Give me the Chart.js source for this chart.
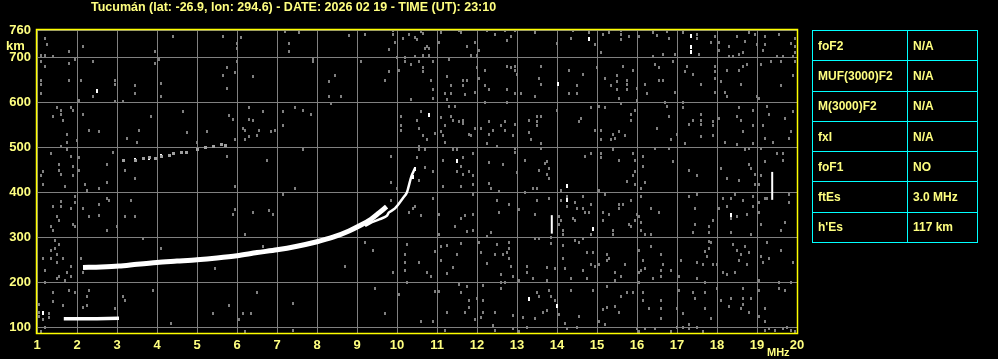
<!DOCTYPE html>
<html>
<head>
<meta charset="utf-8">
<script src="https://cdn.jsdelivr.net/npm/chart.js@4"></script>
<style>
  html, body { margin: 0; padding: 0; background: #000; }
  #wrap { position: relative; width: 998px; height: 359px; background: #000; overflow: hidden; }
  #title { position: absolute; left: 91px; top: 0px; color: #ffff80; font: bold 12.5px "Liberation Sans", Arial, sans-serif; white-space: nowrap; }
  #params { position: absolute; left: 812px; top: 30px; border-collapse: collapse; font: bold 12px "Liberation Sans", Arial, sans-serif; color: #ffff80; }
  #params td { border: 1px solid #00ffff; height: 30.3px; padding: 0 0 0 5px; box-sizing: border-box; white-space: nowrap; }
  #params td.name { width: 95px; }
  #params td.val { width: 70px; }
</style>
</head>
<body>
<div id="wrap">
  <canvas id="iono" width="998" height="359"></canvas>
  <div id="title">Tucumán (lat: -26.9, lon: 294.6) - DATE: 2026 02 19 - TIME (UT): 23:10</div>
  <table id="params"></table>
</div>
<script>
// escalas
const freqTicks = [1, 2, 3, 4, 5, 6, 7, 8, 9, 10, 11, 12, 13, 14, 15, 16, 17, 18, 19, 20];
const heightTicks = [100, 200, 300, 400, 500, 600, 700, 760];

// parametros
const paramNames = ['foF2', 'MUF(3000)F2', 'M(3000)F2', 'fxI', 'foF1', 'ftEs', "h'Es"];
const paramValues = ['N/A', 'N/A', 'N/A', 'N/A', 'NO', '3.0 MHz', '117 km'];

// traza F (ordinaria)
const traceFreq = [2.15, 2.6, 3.05, 3.5, 4.0, 4.5, 5.0, 5.5, 6.0, 6.5, 7.0, 7.5, 8.0, 8.4, 8.8, 9.1, 9.35, 9.55, 9.74];
const traceHeight = [233, 234, 236, 240, 244, 247, 250, 254, 259, 266, 272, 280, 290, 300, 314, 327, 340, 354, 368];

// segunda rama
const branchFreq = [9.2, 9.32, 9.57, 9.74, 9.8, 9.95, 10.15, 10.24, 10.28, 10.36, 10.45];
const branchHeight = [325, 331, 340, 347, 355, 364, 387, 398, 409, 435, 453];

// traza Es
const esFreq = [1.67, 2.0, 2.5, 3.05];
const esHeight = [119, 119, 119, 120];

// eco multiple
const echoFreq = [3.15, 3.45, 3.65, 3.80, 3.95, 4.10, 4.30, 4.40, 4.60, 4.73, 5.00, 5.20, 5.40, 5.60, 5.70];
const echoHeight = [471, 471, 474, 476, 474, 480, 482, 485, 488, 489, 495, 500, 501, 506, 503];

// trazos verticales
const dashA = [[13.87, 308], [13.87, 349]];
const dashB = [[19.38, 383], [19.38, 445]];

// puntos blancos sueltos
const whiteDots = [[2.50, 625], [10.79, 571], [10.44, 452], [10.39, 434], [11.49, 470], [14.79, 741], [17.34, 747],
  [17.34, 722], [17.34, 712], [14.02, 640], [14.24, 414], [14.24, 382], [14.89, 318], [18.34, 350], [13.99, 148],
  [1.15, 131], [13.29, 162], [3.45, 471], [3.80, 476], [4.10, 480]];

// ruido (gris)
const noise = [
  [1.20, 741], [1.25, 727], [1.10, 704], [1.20, 704], [1.40, 701], [1.80, 713], [2.15, 723], [1.10, 689], [1.20, 680],
  [1.80, 685], [2.40, 689], [1.95, 695], [1.10, 649], [1.10, 640], [1.80, 648], [2.10, 649], [1.10, 618], [2.40, 613],
  [2.95, 649], [2.95, 640], [2.05, 603], [2.95, 601], [3.15, 601], [3.45, 636], [3.45, 618], [4.10, 642], [4.10, 613],
  [3.95, 713], [3.95, 685], [4.05, 695], [4.40, 745], [5.65, 745], [6.10, 744], [6.00, 730], [6.00, 719], [7.20, 756],
  [7.30, 729], [7.30, 713], [6.00, 689], [5.75, 676], [5.65, 658], [5.95, 665], [6.40, 656], [5.75, 631], [1.50, 587],
  [1.60, 582], [1.85, 587], [1.90, 582], [1.40, 569], [1.60, 573], [1.65, 560], [2.15, 573], [2.30, 538], [2.55, 534],
  [1.75, 529], [1.75, 510], [2.00, 514], [1.60, 502], [1.75, 494], [1.35, 485], [1.85, 480], [2.05, 476], [1.55, 462],
  [1.90, 458], [1.55, 449], [2.05, 449], [1.15, 445], [1.60, 440], [1.90, 438], [1.10, 436], [2.75, 462], [2.90, 489],
  [3.25, 520], [3.50, 511], [3.55, 538], [3.85, 569], [4.65, 578], [4.75, 532], [5.25, 534], [5.00, 511], [3.20, 449],
  [3.45, 431], [5.80, 571], [5.90, 562], [6.30, 587], [6.30, 562], [6.40, 560], [6.65, 578], [6.15, 542], [6.20, 538],
  [6.55, 538], [6.95, 538], [6.85, 534], [7.15, 547], [7.15, 578], [5.95, 516], [6.20, 516], [6.30, 523], [6.50, 525],
  [5.75, 480], [6.75, 471],
  [7.54, 754], [8.79, 747], [9.19, 749], [9.79, 716], [9.89, 749], [9.89, 758], [9.94, 732], [10.14, 741], [10.29, 749],
  [10.44, 744], [10.49, 738], [10.59, 756], [10.64, 753], [10.69, 719], [10.74, 723], [10.79, 719], [10.64, 704],
  [10.79, 704], [10.44, 702], [10.19, 699], [9.99, 699], [11.09, 754], [11.04, 732], [11.54, 759], [11.59, 754],
  [11.74, 723], [11.94, 732], [11.84, 704], [11.99, 704], [12.04, 714], [12.24, 759], [12.44, 749], [12.69, 759],
  [12.84, 745], [12.74, 736], [12.94, 759], [13.44, 754], [7.89, 695], [7.89, 689], [9.09, 689], [8.44, 658],
  [8.29, 645], [8.29, 613], [8.59, 612], [8.36, 596], [9.79, 667], [9.69, 649], [10.04, 671], [10.19, 689],
  [10.34, 683], [10.54, 689], [10.64, 676], [10.64, 667], [10.89, 689], [10.84, 649], [10.89, 627], [10.89, 609],
  [10.34, 605], [11.29, 695], [11.24, 656], [11.34, 636], [11.34, 619], [11.19, 618], [11.24, 606], [11.64, 649],
  [11.74, 649], [11.64, 636], [11.69, 616], [11.94, 622], [11.99, 676], [12.04, 653], [12.19, 671], [12.19, 636],
  [12.29, 627], [12.19, 600], [12.74, 680], [12.84, 676], [12.94, 680], [12.94, 671], [12.99, 662], [13.59, 680],
  [13.54, 653], [13.59, 640], [12.74, 627], [12.94, 618], [13.09, 618], [13.44, 613], [12.74, 600], [7.44, 587],
  [7.64, 582], [7.84, 573], [10.09, 569], [10.09, 549], [10.09, 538], [10.49, 560], [10.59, 578], [10.54, 542],
  [10.64, 525], [10.74, 516], [10.94, 531], [11.09, 565], [11.19, 547], [11.09, 534], [11.14, 525], [11.19, 511],
  [11.29, 591], [11.44, 591], [11.34, 569], [11.39, 560], [11.54, 556], [11.64, 560], [11.64, 553], [11.79, 529],
  [11.84, 526], [11.94, 542], [12.09, 542], [12.29, 556], [12.39, 538], [12.29, 529], [12.24, 507], [12.49, 502],
  [12.59, 547], [12.69, 556], [12.69, 537], [12.89, 525], [12.94, 551], [13.29, 560], [13.29, 532], [13.34, 516],
  [13.49, 569], [13.49, 556], [13.59, 569], [13.59, 507], [13.49, 547], [7.64, 494], [9.84, 480], [10.54, 502],
  [10.54, 494], [10.69, 494], [10.49, 476], [10.54, 427], [10.69, 454], [10.89, 445], [11.14, 471], [11.39, 494],
  [11.49, 494], [11.59, 458], [11.64, 476], [11.49, 445], [11.64, 440], [11.79, 445], [11.89, 485], [11.89, 438],
  [12.29, 465], [12.64, 462], [12.94, 498], [12.94, 489], [12.99, 443], [13.19, 471], [13.54, 449], [13.69, 464],
  [13.59, 496],
  [13.99, 730], [14.34, 741], [14.39, 759], [14.79, 754], [14.94, 727], [15.09, 710], [15.14, 750], [15.29, 754],
  [15.59, 759], [15.59, 739], [15.59, 750], [15.79, 745], [16.04, 745], [16.39, 754], [16.49, 747], [16.74, 756],
  [16.79, 741], [17.14, 754], [17.49, 750], [17.49, 741], [17.84, 732], [17.94, 745], [18.04, 732], [18.04, 714],
  [18.29, 723], [18.49, 745], [18.69, 734], [18.79, 754], [18.94, 750], [18.99, 727], [19.19, 745], [19.19, 727],
  [19.14, 714], [19.54, 750], [19.84, 729], [19.94, 741], [19.94, 723], [19.94, 710], [16.39, 702], [16.64, 705],
  [16.94, 705], [17.54, 705], [18.29, 701], [18.39, 701], [18.54, 705], [18.64, 710], [19.49, 701], [19.64, 701],
  [19.89, 701], [14.29, 671], [14.64, 662], [14.49, 636], [14.29, 618], [14.49, 618], [14.99, 676], [15.19, 653],
  [15.34, 636], [15.49, 658], [15.49, 645], [15.49, 627], [15.64, 680], [15.74, 649], [15.74, 640], [15.74, 627],
  [15.89, 671], [15.99, 631], [15.54, 609], [15.59, 596], [16.19, 640], [16.24, 618], [16.44, 684], [16.54, 676],
  [16.54, 649], [16.64, 649], [16.89, 689], [16.94, 622], [17.24, 680], [17.19, 667], [17.39, 662], [17.59, 640],
  [17.94, 680], [17.94, 667], [17.94, 653], [17.94, 622], [18.09, 645], [18.19, 622], [18.24, 671], [18.24, 613],
  [18.54, 671], [18.59, 640], [18.64, 680], [18.74, 684], [19.09, 684], [19.34, 689], [19.59, 689], [19.59, 636],
  [19.89, 658], [19.94, 689], [18.99, 613], [19.04, 609], [13.99, 582], [14.54, 556], [14.59, 564], [14.84, 587],
  [14.94, 538], [15.04, 591], [15.09, 538], [15.09, 516], [15.19, 587], [15.34, 516], [15.39, 529], [15.44, 520],
  [15.54, 534], [15.69, 525], [15.84, 573], [15.84, 560], [15.94, 582], [15.99, 604], [16.49, 542], [16.69, 600],
  [16.74, 591], [16.79, 569], [16.84, 516], [16.99, 529], [17.14, 600], [17.14, 587], [17.29, 551], [17.39, 560],
  [17.59, 573], [17.59, 560], [17.59, 551], [17.59, 523], [17.89, 556], [17.89, 547], [17.89, 525], [18.04, 564],
  [18.19, 511], [18.49, 569], [18.54, 587], [18.59, 560], [18.64, 534], [18.89, 582], [18.89, 547], [18.89, 507],
  [19.14, 547], [19.19, 520], [19.24, 591], [19.29, 573], [19.39, 511], [19.69, 564], [19.84, 534], [19.79, 520],
  [19.89, 578], [18.49, 505], [16.44, 498], [16.79, 498], [17.19, 507], [18.69, 494], [18.79, 498], [19.09, 498],
  [14.69, 480], [14.84, 485], [15.09, 485], [15.09, 476], [15.39, 494], [15.54, 471], [15.89, 485], [15.94, 471],
  [16.14, 480], [16.14, 458], [15.94, 445], [15.89, 436], [16.89, 467], [17.29, 449], [17.49, 436], [18.09, 453],
  [18.24, 431], [18.54, 427], [18.79, 462], [18.84, 453], [18.94, 440], [19.19, 467], [19.49, 485], [19.64, 485],
  [19.64, 471], [19.09, 436], [13.74, 467], [13.79, 453], [13.74, 440], [13.79, 431],
  [1.15, 417], [1.70, 413], [2.20, 417], [2.25, 404], [2.55, 408], [2.75, 422], [1.60, 379], [1.40, 368], [1.60, 368],
  [1.85, 364], [1.95, 377], [1.95, 390], [2.15, 364], [1.50, 346], [1.55, 337], [2.30, 346], [2.55, 349], [2.75, 386],
  [2.80, 382], [2.55, 373], [1.35, 324], [1.40, 315], [1.90, 328], [1.95, 324], [2.75, 315], [3.00, 324], [3.20, 346],
  [3.45, 346], [3.35, 382], [1.45, 293], [1.55, 284], [1.35, 271], [1.45, 275], [1.50, 262], [1.15, 253], [1.35, 253],
  [1.65, 253], [1.50, 244], [1.85, 235], [2.10, 253], [1.20, 226], [1.75, 222], [1.85, 213], [2.15, 222], [1.55, 213],
  [1.50, 208], [1.70, 204], [1.20, 199], [1.40, 177], [1.80, 182], [1.95, 177], [2.30, 182], [2.25, 168], [1.40, 157],
  [1.65, 148], [2.15, 143], [2.25, 148], [2.95, 142], [3.15, 168], [3.20, 159], [1.05, 151], [1.05, 134], [1.30, 130],
  [1.05, 125], [1.15, 117], [1.30, 121], [1.20, 99], [1.10, 90], [3.65, 297], [4.10, 275], [3.90, 182], [4.35, 108],
  [5.45, 231], [5.40, 130], [5.80, 148], [5.95, 361], [5.90, 350], [5.95, 413], [6.20, 306], [6.40, 355], [6.80, 359],
  [6.90, 350], [7.15, 395], [6.65, 279], [6.50, 177], [6.05, 117], [6.15, 130], [6.35, 130], [6.20, 90],
  [7.44, 408], [9.84, 422], [9.99, 408], [9.84, 382], [10.29, 355], [10.39, 364], [10.44, 368], [10.59, 349],
  [10.89, 386], [11.14, 413], [11.04, 350], [11.04, 306], [11.44, 324], [11.59, 342], [11.69, 349], [11.74, 312],
  [11.89, 416], [11.89, 395], [11.89, 350], [11.89, 315], [11.59, 413], [12.29, 419], [12.34, 408], [12.54, 402],
  [12.49, 382], [12.54, 355], [12.34, 310], [12.24, 302], [12.79, 373], [13.04, 362], [13.19, 399], [13.39, 408],
  [13.49, 408], [13.49, 382], [13.44, 350], [13.44, 297], [13.54, 297], [12.04, 288], [11.59, 285], [11.24, 282],
  [11.09, 279], [10.94, 268], [10.24, 284], [10.19, 262], [10.19, 244], [10.19, 226], [10.54, 244], [10.74, 222],
  [10.84, 213], [11.09, 248], [11.39, 233], [11.49, 262], [11.24, 219], [12.09, 266], [12.24, 241], [12.44, 262],
  [12.49, 284], [12.64, 262], [12.74, 266], [12.79, 288], [12.79, 275], [12.79, 253], [12.84, 235], [12.89, 213],
  [12.59, 217], [12.59, 199], [12.69, 199], [12.59, 186], [13.24, 235], [13.24, 222], [13.39, 208], [13.04, 204],
  [9.19, 288], [9.39, 270], [8.69, 235], [9.89, 222], [9.44, 186], [10.04, 173], [9.69, 130], [10.24, 199],
  [10.59, 112], [10.89, 112], [10.94, 179], [11.04, 179], [11.19, 93], [11.24, 134], [11.54, 195], [11.59, 177],
  [11.74, 191], [11.79, 160], [11.79, 145], [11.69, 134], [11.94, 118], [12.14, 192], [12.14, 160], [12.14, 133],
  [12.09, 121], [11.99, 164], [12.44, 133], [12.39, 103], [12.44, 93], [12.89, 126], [12.89, 97], [13.14, 121],
  [13.24, 99], [13.49, 177], [13.54, 168], [13.44, 120], [13.64, 134], [7.39, 152], [7.39, 94], [13.04, 91],
  [13.79, 386], [14.09, 404], [14.09, 382], [14.24, 390], [14.24, 368], [14.44, 377], [14.49, 364], [14.64, 390],
  [14.64, 364], [14.69, 355], [14.79, 355], [14.84, 373], [14.04, 346], [14.09, 337], [14.04, 328], [14.39, 342],
  [14.44, 337], [14.14, 315], [14.14, 306], [13.84, 300], [14.84, 306], [15.04, 404], [15.19, 395], [15.14, 355],
  [15.29, 350], [15.14, 337], [15.39, 315], [15.39, 306], [15.54, 373], [15.64, 373], [15.54, 364], [15.84, 382],
  [15.79, 328], [15.84, 324], [15.94, 337], [15.99, 350], [16.09, 390], [16.04, 346], [16.09, 333], [16.09, 315],
  [16.19, 306], [16.34, 364], [16.34, 306], [16.54, 355], [15.74, 423], [15.94, 417], [16.09, 408], [16.19, 422],
  [17.29, 390], [17.49, 395], [17.44, 364], [17.44, 328], [17.39, 310], [17.79, 324], [17.79, 310], [17.89, 337],
  [18.04, 364], [18.14, 386], [18.24, 368], [18.34, 386], [18.34, 342], [18.44, 395], [18.49, 346], [18.34, 310],
  [18.64, 382], [18.74, 350], [18.84, 306], [18.89, 390], [18.89, 368], [19.04, 377], [19.04, 355], [19.09, 328],
  [19.19, 386], [19.24, 386], [19.59, 315], [19.69, 333], [19.79, 395], [19.79, 377], [18.94, 416], [19.04, 416],
  [13.84, 287], [14.14, 282], [13.94, 231], [13.74, 233], [13.74, 204], [13.79, 182], [13.84, 168], [13.94, 159],
  [13.74, 137], [14.04, 128], [14.19, 109], [14.24, 97], [14.49, 100], [14.14, 253], [14.19, 231], [14.34, 208],
  [14.34, 182], [14.44, 293], [14.54, 288], [14.64, 297], [14.74, 266], [14.89, 266], [14.64, 226], [14.74, 208],
  [14.84, 239], [14.94, 235], [14.89, 182], [14.54, 124], [15.04, 239], [15.24, 262], [15.24, 248], [15.24, 191],
  [15.29, 253], [15.44, 222], [15.44, 204], [15.59, 213], [15.69, 239], [15.74, 177], [15.89, 177], [15.59, 168],
  [15.14, 140], [15.24, 143], [15.44, 146], [15.04, 112], [15.19, 106], [15.54, 133], [16.04, 270], [16.14, 248],
  [16.04, 222], [16.09, 226], [16.19, 231], [16.04, 199], [16.34, 279], [16.39, 208], [16.59, 262], [16.59, 226],
  [16.59, 213], [16.64, 239], [16.84, 226], [16.14, 177], [16.14, 159], [16.29, 142], [16.59, 159], [16.59, 142],
  [16.59, 120], [17.09, 248], [17.04, 213], [17.04, 182], [16.99, 142], [17.14, 130], [17.29, 106], [17.39, 177],
  [17.44, 164], [17.49, 244], [17.49, 208], [17.64, 239], [17.69, 268], [17.74, 257], [17.79, 275], [17.79, 290],
  [17.69, 199], [17.69, 177], [17.69, 142], [17.84, 288], [17.89, 239], [17.99, 239], [17.84, 120], [17.99, 186],
  [18.09, 159], [18.14, 222], [18.24, 217], [18.29, 146], [18.34, 164], [18.39, 284], [18.44, 222], [18.49, 270],
  [18.54, 248], [18.59, 262], [18.59, 142], [18.64, 186], [18.69, 279], [18.74, 239], [18.79, 266], [18.64, 164],
  [18.64, 151], [18.79, 134], [18.84, 164], [19.04, 204], [19.04, 182], [19.09, 257], [19.14, 244], [19.24, 288],
  [19.29, 253], [19.54, 199], [19.59, 270], [19.54, 186], [19.69, 182], [19.84, 199], [19.89, 244], [19.19, 142],
  [19.19, 112], [19.04, 124],
  [15.99, 97], [16.04, 91], [16.19, 97], [16.44, 97], [16.84, 91], [16.99, 100], [17.14, 100], [17.29, 97],
  [17.49, 100], [17.64, 91], [19.19, 94], [19.29, 97], [19.44, 94], [19.64, 97], [19.74, 100], [19.84, 93], [19.94, 91]
];

const YELLOW = '#ffff80';
const FONT = '"Liberation Sans", Arial, sans-serif';

function block(w, h, color) {
    const c = document.createElement('canvas');
    c.width = w;
    c.height = h;
    const g = c.getContext('2d');
    g.fillStyle = color;
    g.fillRect(0, 0, w, h);
    return c;
}

function zipPts(xs, ys) {
    return xs.map((x, i) => ({ x: x, y: ys[i] }));
}

function pairPts(arr) {
    return arr.map(p => ({ x: p[0], y: p[1] }));
}

// tabla de parametros
const table = document.getElementById('params');
paramNames.forEach((name, i) => {
    const tr = document.createElement('tr');
    tr.innerHTML = '<td class="name"></td><td class="val"></td>';
    tr.children[0].textContent = name;
    tr.children[1].textContent = paramValues[i];
    table.appendChild(tr);
});

// marco amarillo y unidades
const framePlugin = {
    id: 'frame',
    afterDraw(chart) {
        const { ctx, chartArea } = chart;
        ctx.save();
        ctx.strokeStyle = '#ffff00';
        ctx.lineWidth = 1.5;
        ctx.strokeRect(chartArea.left - 0.5, chartArea.top - 0.5,
            chartArea.right - chartArea.left + 1, chartArea.bottom - chartArea.top + 1);
        ctx.fillStyle = YELLOW;
        ctx.font = 'bold 13px ' + FONT;
        ctx.textAlign = 'left';
        ctx.textBaseline = 'middle';
        ctx.fillText('km', 6, 46);
        ctx.font = 'bold 11px ' + FONT;
        ctx.textBaseline = 'alphabetic';
        ctx.fillText('MHz', 767, 356);
        ctx.restore();
    }
};

const gray = '#808080';

new Chart(document.getElementById('iono').getContext('2d'), {
    type: 'scatter',
    data: {
        datasets: [
            {
                data: pairPts(noise),
                pointStyle: block(2, 3, gray),
                pointRadius: 2,
                showLine: false
            },
            {
                data: zipPts(echoFreq, echoHeight),
                pointStyle: block(3, 3, '#a0a0a0'),
                pointRadius: 2,
                showLine: false
            },
            {
                data: zipPts(branchFreq, branchHeight),
                showLine: true,
                borderColor: '#ffffff',
                borderWidth: 2.5,
                tension: 0.3,
                pointRadius: 0
            },
            {
                data: zipPts(traceFreq, traceHeight),
                showLine: true,
                borderColor: '#ffffff',
                borderWidth: 5,
                tension: 0.3,
                pointRadius: 0
            },
            {
                data: zipPts(esFreq, esHeight),
                showLine: true,
                borderColor: '#ffffff',
                borderWidth: 3.5,
                pointRadius: 0
            },
            {
                data: pairPts(dashA),
                showLine: true,
                borderColor: '#ffffff',
                borderWidth: 2,
                pointRadius: 0
            },
            {
                data: pairPts(dashB),
                showLine: true,
                borderColor: '#ffffff',
                borderWidth: 2,
                pointRadius: 0
            },
            {
                data: pairPts(whiteDots),
                pointStyle: block(2, 4, '#ffffff'),
                pointRadius: 2,
                showLine: false
            }
        ]
    },
    options: {
        responsive: false,
        animation: false,
        layout: { padding: { left: 0, top: 30, right: 201, bottom: 0 } },
        plugins: {
            legend: { display: false },
            tooltip: { enabled: false }
        },
        scales: {
            x: {
                type: 'linear',
                min: 1,
                max: 20,
                afterFit(scale) { scale.height = 26; },
                afterBuildTicks(scale) { scale.ticks = freqTicks.map(v => ({ value: v })); },
                grid: { color: gray, lineWidth: 1, drawTicks: false },
                border: { display: false },
                ticks: { color: YELLOW, font: { family: FONT, size: 13, weight: 'bold' }, padding: 5, maxRotation: 0, autoSkip: false }
            },
            y: {
                type: 'linear',
                min: 87.4,
                max: 760,
                afterFit(scale) { scale.width = 37; },
                afterBuildTicks(scale) { scale.ticks = heightTicks.map(v => ({ value: v })); },
                grid: { color: gray, lineWidth: 1, drawTicks: false },
                border: { display: false },
                ticks: { color: YELLOW, font: { family: FONT, size: 13, weight: 'bold' }, padding: 6, autoSkip: false }
            }
        }
    },
    plugins: [framePlugin]
});
</script>
</body>
</html>
